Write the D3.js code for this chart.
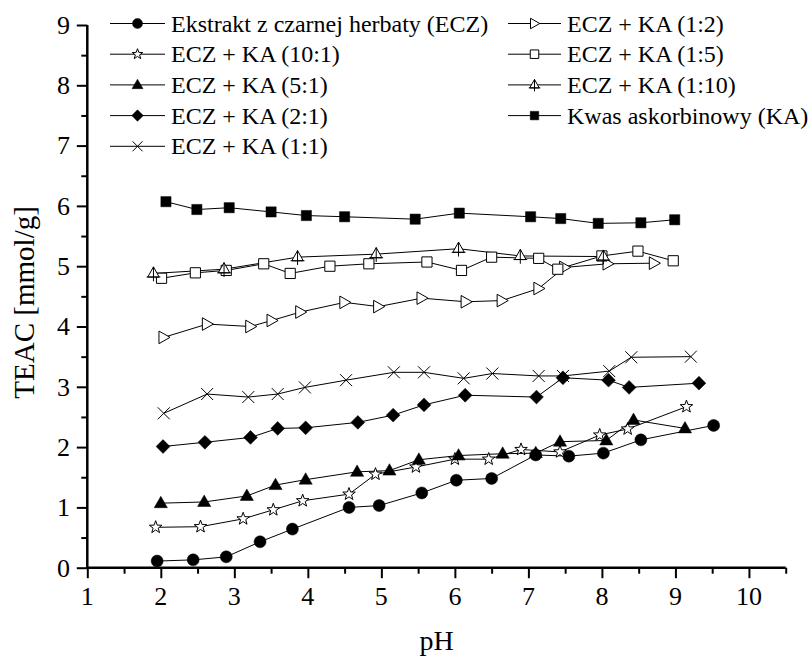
<!DOCTYPE html>
<html>
<head>
<meta charset="utf-8">
<script src="https://cdn.jsdelivr.net/npm/d3@7"></script>
<style>
  body { margin: 0; background: #fff; }
</style>
</head>
<body>
<div id="chart"></div>
<script>
// [pH, TEAC] pairs
const ecz = [[1.95,0.11],[2.44,0.13],[2.89,0.18],[3.35,0.43],[3.79,0.64],[4.56,1.0],[4.97,1.03],[5.55,1.24],[6.02,1.45],[6.5,1.48],[7.1,1.87],[7.55,1.85],[8.02,1.9],[8.53,2.12],[9.52,2.36]];
const eczKa10to1 = [[1.93,0.67],[2.54,0.68],[3.12,0.81],[3.53,0.96],[3.93,1.11],[4.56,1.22],[4.92,1.55],[5.47,1.67],[6.0,1.8],[6.46,1.8],[6.9,1.96],[7.43,1.92],[7.97,2.2],[8.35,2.3],[9.15,2.67]];
const eczKa5to1 = [[2.0,1.07],[2.59,1.09],[3.17,1.19],[3.56,1.37],[3.97,1.46],[4.67,1.59],[5.11,1.61],[5.51,1.79],[6.05,1.86],[6.65,1.89],[7.1,1.9],[7.43,2.09],[8.06,2.11],[8.43,2.45],[9.13,2.31]];
const eczKa2to1 = [[2.03,2.01],[2.6,2.08],[3.22,2.16],[3.59,2.31],[3.97,2.32],[4.68,2.41],[5.16,2.53],[5.58,2.7],[6.14,2.86],[7.11,2.83],[7.47,3.15],[8.09,3.11],[8.37,2.99],[9.32,3.06]];
const eczKa1to1 = [[2.04,2.56],[2.63,2.88],[3.19,2.83],[3.59,2.88],[3.96,2.99],[4.52,3.11],[5.17,3.24],[5.58,3.24],[6.12,3.14],[6.51,3.22],[7.14,3.18],[7.47,3.18],[8.1,3.26],[8.4,3.49],[9.21,3.5]];
const eczKa1to2 = [[2.04,3.82],[2.63,4.04],[3.22,4.0],[3.51,4.1],[3.9,4.24],[4.5,4.4],[4.96,4.33],[5.55,4.47],[6.15,4.41],[6.64,4.43],[7.14,4.63],[7.49,4.98],[8.08,5.04],[8.71,5.05]];
const eczKa1to5 = [[2.01,4.8],[2.47,4.89],[2.89,4.93],[3.4,5.04],[3.76,4.88],[4.3,5.0],[4.83,5.04],[5.62,5.07],[6.09,4.93],[6.5,5.15],[7.14,5.13],[7.4,4.95],[8.0,5.17],[8.49,5.25],[8.97,5.09]];
const eczKa1to10 = [[1.9,4.88],[2.86,4.95],[3.86,5.15],[4.93,5.2],[6.05,5.29],[6.89,5.17],[8.02,5.16]];
const ka = [[2.07,6.07],[2.49,5.94],[2.93,5.97],[3.5,5.9],[3.98,5.84],[4.5,5.82],[5.46,5.78],[6.06,5.88],[7.03,5.82],[7.44,5.79],[7.95,5.71],[8.53,5.72],[8.99,5.77]];

const xTicks = [1, 2, 3, 4, 5, 6, 7, 8, 9, 10];
const yTicks = [0, 1, 2, 3, 4, 5, 6, 7, 8, 9];

const series = [
    { name: "Ekstrakt z czarnej herbaty (ECZ)", data: ecz, marker: "circle", filled: true },
    { name: "ECZ + KA (10:1)", data: eczKa10to1, marker: "star", filled: false },
    { name: "ECZ + KA (5:1)", data: eczKa5to1, marker: "triangle", filled: true },
    { name: "ECZ + KA (2:1)", data: eczKa2to1, marker: "diamond", filled: true },
    { name: "ECZ + KA (1:1)", data: eczKa1to1, marker: "times", filled: false },
    { name: "ECZ + KA (1:2)", data: eczKa1to2, marker: "triRight", filled: false },
    { name: "ECZ + KA (1:5)", data: eczKa1to5, marker: "square", filled: false },
    { name: "ECZ + KA (1:10)", data: eczKa1to10, marker: "triCross", filled: false },
    { name: "Kwas askorbinowy (KA)", data: ka, marker: "square", filled: true }
];

const width = 810;
const height = 661;
const serif = "Liberation Serif, Times New Roman, serif";

const x = d3.scaleLinear().domain([1, 10.5]).range([87.3, 785.7]);
const y = d3.scaleLinear().domain([0, 9]).range([567.7, 25]);

const svg = d3.select("#chart")
    .append("svg")
    .attr("width", width)
    .attr("height", height)
    .attr("font-family", serif);

// marker shapes, r = half size
function markerPath(type, r) {
    const p = d3.path();
    switch (type) {
        case "circle":
            p.arc(0, 0, r, 0, 2 * Math.PI);
            break;
        case "square":
            p.rect(-r * 0.85, -r * 0.85, r * 1.7, r * 1.7);
            break;
        case "diamond":
            p.moveTo(0, -r * 1.15); p.lineTo(r * 1.15, 0); p.lineTo(0, r * 1.15); p.lineTo(-r * 1.15, 0); p.closePath();
            break;
        case "triangle":
            p.moveTo(0, -r * 1.15); p.lineTo(r * 1.1, r * 0.75); p.lineTo(-r * 1.1, r * 0.75); p.closePath();
            break;
        case "triRight":
            p.moveTo(-r * 0.8, -r * 1.05); p.lineTo(r * 1.05, 0); p.lineTo(-r * 0.8, r * 1.05); p.closePath();
            break;
        case "star": {
            const outer = r * 1.1, inner = r * 0.45;
            for (let i = 0; i < 10; i++) {
                const rad = i % 2 === 0 ? outer : inner;
                const a = -Math.PI / 2 + i * Math.PI / 5;
                if (i === 0) p.moveTo(rad * Math.cos(a), rad * Math.sin(a));
                else p.lineTo(rad * Math.cos(a), rad * Math.sin(a));
            }
            p.closePath();
            break;
        }
        case "times":
            p.moveTo(-r, -r); p.lineTo(r, r);
            p.moveTo(-r, r); p.lineTo(r, -r);
            break;
        case "triCross":
            p.moveTo(0, -r * 1.1); p.lineTo(r * 0.95, r * 0.6); p.lineTo(-r * 0.95, r * 0.6); p.closePath();
            p.moveTo(0, -r * 1.1); p.lineTo(0, r * 1.3);
            p.moveTo(-r * 1.15, r * 0.6); p.lineTo(r * 1.15, r * 0.6);
            break;
    }
    return p.toString();
}

// Axes
const xAxis = d3.axisBottom(x)
    .tickValues(d3.range(1, 10.51, 0.5))
    .tickSize(0)
    .tickFormat("");
const gx = svg.append("g").attr("transform", `translate(0,${y(0)})`).call(xAxis);
gx.select(".domain").attr("stroke", "#000").attr("stroke-width", 2.5).attr("d", `M${x(1)},0H${x(10.5)}`);
gx.selectAll(".tick line")
    .attr("stroke", "#000")
    .attr("stroke-width", 2)
    .attr("y2", (d) => Number.isInteger(d) ? 10.5 : 6);

svg.append("g").selectAll("text")
    .data(xTicks)
    .join("text")
    .attr("x", (d) => x(d))
    .attr("y", 605)
    .attr("text-anchor", "middle")
    .attr("font-family", serif)
    .attr("font-size", "26px")
    .text((d) => d);

const yAxis = d3.axisLeft(y)
    .tickValues(d3.range(0, 9.01, 0.5))
    .tickSize(0)
    .tickFormat("");
const gy = svg.append("g").attr("transform", `translate(${x(1)},0)`).call(yAxis);
gy.select(".domain").attr("stroke", "#000").attr("stroke-width", 2.5).attr("d", `M0,${y(0) + 1}V${y(9)}`);
gy.selectAll(".tick line")
    .attr("stroke", "#000")
    .attr("stroke-width", 2)
    .attr("x2", (d) => Number.isInteger(d) ? -10.5 : -6);

svg.append("g").selectAll("text")
    .data(yTicks)
    .join("text")
    .attr("x", 70)
    .attr("y", (d) => y(d))
    .attr("dy", "0.34em")
    .attr("text-anchor", "end")
    .attr("font-family", serif)
    .attr("font-size", "26px")
    .text((d) => d);

// axis titles
svg.append("text")
    .attr("x", x(5.75))
    .attr("y", 650)
    .attr("text-anchor", "middle")
    .attr("font-family", serif)
    .attr("font-size", "28px")
    .text("pH");

svg.append("text")
    .attr("transform", `translate(34,${y(4.4)}) rotate(-90)`)
    .attr("text-anchor", "middle")
    .attr("font-family", serif)
    .attr("font-size", "29px")
    .text("TEAC [mmol/g]");

// Series
const line = d3.line().x((d) => x(d[0])).y((d) => y(d[1]));

const plot = svg.append("g");
series.forEach((s) => {
    plot.append("path")
        .datum(s.data)
        .attr("fill", "none")
        .attr("stroke", "#000")
        .attr("stroke-width", 1)
        .attr("d", line);
});

series.forEach((s) => {
    plot.append("g").selectAll("path")
        .data(s.data)
        .join("path")
        .attr("transform", (d) => `translate(${x(d[0])},${y(d[1])})`)
        .attr("d", markerPath(s.marker, 6))
        .attr("fill", s.marker === "times" ? "none" : (s.filled ? "#000" : "#fff"))
        .attr("stroke", "#000")
        .attr("stroke-width", s.filled ? 0.5 : 1);
});

// Legend
const legendRows = [23.5, 54.2, 84.9, 115.6, 146.3];
const legendCols = [{ x0: 110, x1: 165 }, { x0: 508, x1: 561 }];

const legend = svg.append("g");
series.forEach((s, i) => {
    const col = i < 5 ? legendCols[0] : legendCols[1];
    const row = i < 5 ? legendRows[i] : legendRows[i - 5];
    const item = legend.append("g");
    item.append("line")
        .attr("x1", col.x0).attr("x2", col.x1)
        .attr("y1", row).attr("y2", row)
        .attr("stroke", "#000")
        .attr("stroke-width", 1);
    item.append("path")
        .attr("transform", `translate(${(col.x0 + col.x1) / 2},${row})`)
        .attr("d", markerPath(s.marker, 5))
        .attr("fill", s.marker === "times" ? "none" : (s.filled ? "#000" : "#fff"))
        .attr("stroke", "#000")
        .attr("stroke-width", s.filled ? 0.5 : 1);
    item.append("text")
        .attr("x", col.x1 + 6)
        .attr("y", row)
        .attr("dy", "0.34em")
        .attr("font-family", serif)
        .attr("font-size", "24px")
        .text(s.name);
});
</script>
</body>
</html>
